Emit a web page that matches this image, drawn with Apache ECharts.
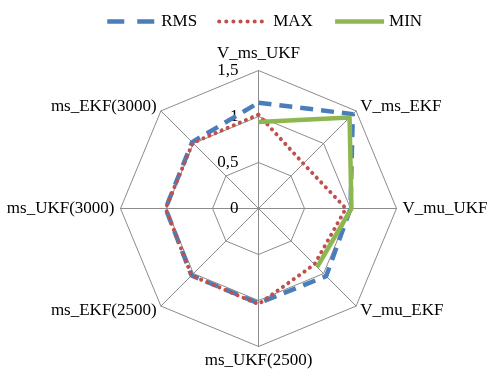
<!DOCTYPE html>
<html>
<head>
<meta charset="utf-8">
<script src="https://cdn.jsdelivr.net/npm/echarts@6/dist/echarts.min.js"></script>
<style>
  html, body { margin: 0; padding: 0; background: #fff; }
  #chart { width: 489px; height: 375px; }
</style>
</head>
<body>
<div id="chart"></div>
<script>
// Radar axes, clockwise from the top
const categories = ['V_ms_UKF', 'V_ms_EKF', 'V_mu_UKF', 'V_mu_EKF',
                    'ms_UKF(2500)', 'ms_EKF(2500)', 'ms_UKF(3000)', 'ms_EKF(3000)'];
const tickLabels = ['0', '0,5', '1', '1,5'];
const axisMax = 1.5;

const rmsValues = [1.15, 1.45, 1.00, 1.04, 1.03, 1.03, 1.01, 1.02];
const maxValues = [1.02, 0.69, 0.95, 0.86, 1.04, 1.03, 1.01, 1.01];
const minValues = [0.94, 1.40, 1.01, 0.90];

const FONT = '"Liberation Serif", "Times New Roman", serif';
const GRID = '#8c8c8c';
const CENTER = [258.5, 208.5];
const RADIUS = 138;

const BLUE = '#4a7ebb';
const RED = '#c0504d';
const GREEN = '#8fb74f';

// [radius, angle] pairs; angle is the category index on a 0..n angle axis
function toPolar(values, closed) {
  const pts = values.map((v, i) => [v, i]);
  if (closed) pts.push([values[0], categories.length]);
  return pts;
}

// The radar component lays its indicators out counter-clockwise,
// so feed it the first axis followed by the rest in reverse order.
const radarOrder = [categories[0]].concat(categories.slice(1).reverse());

const chart = echarts.init(document.getElementById('chart'), null, { renderer: 'canvas' });

chart.setOption({
  animation: false,
  backgroundColor: '#ffffff',
  textStyle: { fontFamily: FONT },
  legend: {
    top: 8,
    left: 100,
    itemWidth: 49,
    itemHeight: 14,
    itemGap: 20,
    itemStyle: { opacity: 0 },
    textStyle: { fontFamily: FONT, fontSize: 17, color: '#000' },
    data: [
      { name: 'RMS', lineStyle: { type: [17, 13], width: 4.5 } },
      { name: 'MAX', lineStyle: { type: [0.1, 7], width: 4 } },
      { name: 'MIN', lineStyle: { width: 4.5 } }
    ]
  },
  radar: {
    center: CENTER,
    radius: RADIUS,
    startAngle: 90,
    shape: 'polygon',
    splitNumber: 3,
    nameGap: 6,
    axisName: { color: '#000', fontFamily: FONT, fontSize: 17 },
    axisLine: { lineStyle: { color: GRID, width: 1 } },
    splitLine: { lineStyle: { color: GRID, width: 1 } },
    splitArea: { show: false },
    axisLabel: { show: false },
    indicator: radarOrder.map((name, i) => {
      const ind = { name: name, min: 0, max: axisMax };
      if (i === 0) {
        ind.axisLabel = {
          show: true,
          showMinLabel: true,
          showMaxLabel: true,
          margin: 20,
          color: '#000',
          fontFamily: FONT,
          fontSize: 17,
          formatter: (v) => tickLabels[Math.round(v / 0.5)]
        };
      }
      return ind;
    })
  },
  polar: { center: CENTER, radius: RADIUS },
  angleAxis: {
    type: 'value',
    min: 0,
    max: categories.length,
    startAngle: 90,
    clockwise: true,
    show: false
  },
  radiusAxis: { type: 'value', min: 0, max: axisMax, show: false },
  series: [
    {
      name: 'RMS',
      type: 'line',
      coordinateSystem: 'polar',
      symbol: 'none',
      data: toPolar(rmsValues, true),
      lineStyle: { color: BLUE, width: 4.5, type: [13, 8], cap: 'butt' },
      itemStyle: { color: BLUE },
      z: 3
    },
    {
      name: 'MAX',
      type: 'line',
      coordinateSystem: 'polar',
      symbol: 'none',
      data: toPolar(maxValues, true),
      lineStyle: { color: RED, width: 4, type: [0.1, 6.5], cap: 'round' },
      itemStyle: { color: RED },
      z: 4
    },
    {
      name: 'MIN',
      type: 'line',
      coordinateSystem: 'polar',
      symbol: 'none',
      data: toPolar(minValues, false),
      lineStyle: { color: GREEN, width: 4.5 },
      itemStyle: { color: GREEN },
      z: 5
    }
  ]
});
</script>
</body>
</html>
